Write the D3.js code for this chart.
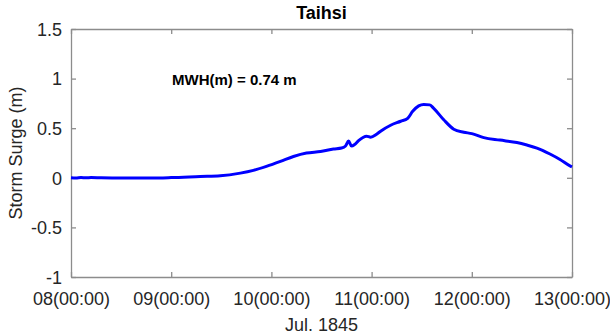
<!DOCTYPE html>
<html><head><meta charset="utf-8">
<script src="https://cdn.jsdelivr.net/npm/d3@7"></script>
<style>body{margin:0;background:#fff}svg{display:block}text{font-family:"Liberation Sans",Arial,Helvetica,sans-serif}</style>
</head><body><svg id="c" width="610" height="335"></svg>
<script>
const times = [8.00,8.05,8.10,8.15,8.20,8.30,8.50,8.80,9.00,9.29,9.49,9.69,9.82,9.95,10.09,10.22,10.35,10.49,10.62,10.70,10.74,10.77,10.80,10.83,10.87,10.95,10.99,11.05,11.09,11.19,11.29,11.36,11.41,11.47,11.52,11.58,11.62,11.72,11.82,11.92,12.00,12.12,12.28,12.45,12.55,12.65,12.78,12.88,12.98,13.00];
const surge = [0.000,-0.003,0.003,0.000,0.002,0.000,-0.002,-0.002,0.002,0.013,0.02,0.047,0.075,0.115,0.165,0.215,0.25,0.265,0.29,0.30,0.32,0.37,0.32,0.335,0.375,0.42,0.41,0.44,0.47,0.53,0.57,0.60,0.67,0.725,0.74,0.735,0.70,0.585,0.49,0.46,0.445,0.405,0.38,0.355,0.33,0.30,0.24,0.185,0.12,0.11];
const xTicks = [8,9,10,11,12,13];
const xTickLabels = ["08(00:00)","09(00:00)","10(00:00)","11(00:00)","12(00:00)","13(00:00)"];
const yTicks = [-1,-0.5,0,0.5,1,1.5];
const yTickLabels = ["-1","-0.5","0","0.5","1","1.5"];
const title = "Taihsi", xLabel = "Jul. 1845", yLabel = "Storm Surge (m)", note = "MWH(m) = 0.74 m";

(function(){
const L=71,R=572,T=29,B=277;
const svg=d3.select("#c");
const x=d3.scaleLinear().domain([8,13]).range([L,R]);
const y=d3.scaleLinear().domain([-1,1.5]).range([B,T]);
const axCol="#8c8c8c", txtCol="#262626";

const ga=svg.append("g");
ga.append("g").attr("transform",`translate(0,${B})`).call(d3.axisBottom(x).tickValues(xTicks).tickSizeInner(-5).tickSizeOuter(0).tickPadding(15).tickFormat((d,i)=>xTickLabels[i]));
ga.append("g").attr("transform",`translate(0,${T})`).call(d3.axisTop(x).tickValues(xTicks).tickSizeInner(-5).tickSizeOuter(0).tickFormat(""));
const gLeft=ga.append("g").attr("transform",`translate(${L},0)`).call(d3.axisLeft(y).tickValues(yTicks).tickSizeInner(-5).tickSizeOuter(0).tickPadding(9).tickFormat((d,i)=>yTickLabels[i]));
ga.append("g").attr("transform",`translate(${R},0)`).call(d3.axisRight(y).tickValues(yTicks).tickSizeInner(-5).tickSizeOuter(0).tickFormat(""));
ga.selectAll(".domain").attr("stroke",axCol).attr("stroke-width",1.3);
ga.selectAll(".tick line").attr("stroke",axCol).attr("stroke-width",1.3);
ga.selectAll(".tick text").attr("fill",txtCol).style("font-size","18px");
gLeft.selectAll(".tick text").attr("dy","0.35em");

const line=d3.line().x((d,i)=>x(times[i])).y(d=>y(d)).curve(d3.curveMonotoneX);
svg.append("path").datum(surge).attr("d",line).attr("fill","none").attr("stroke","#0000ff").attr("stroke-width",3).attr("stroke-linejoin","round");

svg.append("text").attr("x",(L+R)/2).attr("y",19).attr("text-anchor","middle").attr("fill","#000").style("font-size","18px").style("font-weight","bold").text(title);
svg.append("text").attr("x",(L+R)/2).attr("y",331).attr("text-anchor","middle").attr("fill",txtCol).style("font-size","18px").text(xLabel);
svg.append("text").attr("transform",`translate(22,${(T+B)/2}) rotate(-90)`).attr("text-anchor","middle").attr("fill",txtCol).style("font-size","18px").text(yLabel);
svg.append("text").attr("x",172).attr("y",85).attr("fill","#000").style("font-size","15px").style("font-weight","bold").text(note);
})();
</script></body></html>
